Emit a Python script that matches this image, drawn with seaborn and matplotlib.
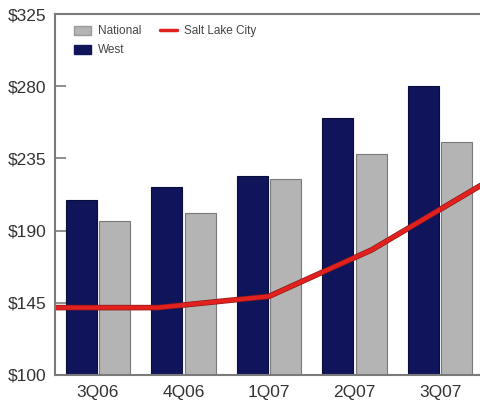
import matplotlib
matplotlib.use("Agg")
import matplotlib.pyplot as plt
import matplotlib.patheffects as pe
from matplotlib.patches import Patch
from matplotlib.lines import Line2D
from matplotlib.ticker import FixedLocator
import pandas as pd
import seaborn as sns

quarters = ["3Q06", "4Q06", "1Q07", "2Q07", "3Q07"]
west = [209, 217, 224, 260, 280]
national = [196, 201, 222, 238, 245]

# Salt Lake City median price path (position along the quarter axis, value)
slc_pos = [-0.5, 0.7, 2.0, 3.2, 4.5]
slc_values = [142, 142, 149, 178, 219]

y_ticks = [100, 145, 190, 235, 280, 325]

sns.set_style("white")
plt.rcParams["font.family"] = ["Liberation Sans", "DejaVu Sans"]

df = pd.DataFrame({
    "quarter": quarters * 2,
    "price": west + national,
    "region": ["West"] * len(quarters) + ["National"] * len(quarters),
})

fig = plt.figure(figsize=(4.8, 4.04), dpi=100)
ax = fig.add_axes([55 / 480, 29 / 404, 428 / 480, 361 / 404])

navy = "#10155b"
grey = "#b4b4b4"
red = "#e2211f"

sns.barplot(data=df, x="quarter", y="price", hue="region",
            hue_order=["West", "National"], palette=[navy, grey],
            width=0.78, gap=0.07, ax=ax, legend=False, saturation=1,
            edgecolor="#7a7a7a", linewidth=0.8)
for bar in ax.patches[:len(quarters)]:
    bar.set_edgecolor("#0a0d3a")

sns.lineplot(x=slc_pos, y=slc_values, ax=ax, color=red, lw=3.0,
             path_effects=[pe.Stroke(linewidth=4.0, foreground="#8a1a1a"), pe.Normal()])

ax.set_xlim(-0.5, 4.5)
ax.set_ylim(100, 325)
ax.set_yticks(y_ticks)
ax.set_yticklabels([f"${v}" for v in y_ticks])
ax.set_xlabel("")
ax.set_ylabel("")

ax.xaxis.set_minor_locator(FixedLocator([0.5, 1.5, 2.5, 3.5]))
ax.tick_params(axis="x", which="major", length=0, pad=7, labelsize=12.5, labelcolor="#333333")
ax.tick_params(axis="x", which="minor", direction="in", length=5, width=1, color="#7a7a7a")
ax.tick_params(axis="y", direction="in", length=8, width=1.2, color="#7a7a7a",
               pad=6, labelsize=12.5, labelcolor="#333333", left=True)

for side in ["left", "bottom", "top"]:
    ax.spines[side].set_color("#7a7a7a")
    ax.spines[side].set_linewidth(1.5)
ax.spines["right"].set_visible(False)

handles = [
    Patch(facecolor=grey, edgecolor="#9a9a9a", label="National"),
    Patch(facecolor=navy, edgecolor=navy, label="West"),
    Line2D([], [], color=red, lw=2.5, label="Salt Lake City"),
]
ax.legend(handles=handles, ncol=2, loc="upper left", bbox_to_anchor=(0.02, 0.998),
          frameon=False, fontsize=8.5, handlelength=1.4, handleheight=0.8,
          handletextpad=0.6, columnspacing=1.6, labelspacing=0.6,
          labelcolor="#444444")

fig.savefig("out.png", dpi=100)
